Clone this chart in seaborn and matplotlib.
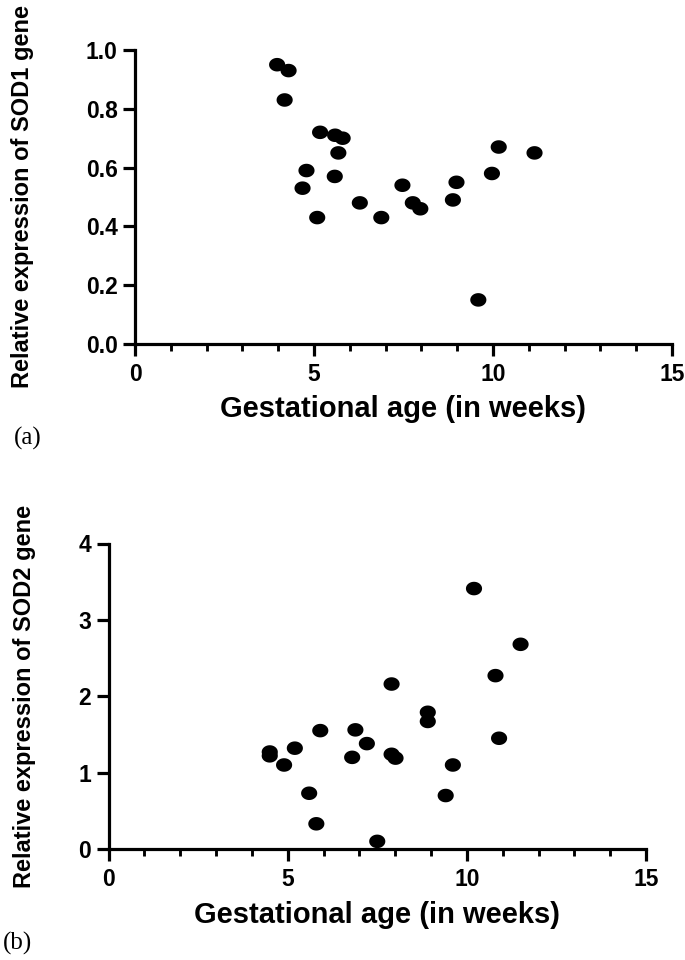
import numpy as np
import pandas as pd
import matplotlib
matplotlib.use("Agg")
import matplotlib.pyplot as plt
import seaborn as sns
from matplotlib.path import Path
from matplotlib.markers import MarkerStyle
from matplotlib.ticker import MultipleLocator, FormatStrFormatter

# ---- data ----
sod1_weeks = [3.97, 4.29, 4.18, 5.17, 5.59, 5.80, 5.68, 4.79, 5.58, 4.68, 5.09,
              6.28, 6.88, 7.47, 7.76, 7.97, 8.88, 8.98, 9.97, 10.16, 11.16, 9.59]
sod1_expr = [0.95, 0.93, 0.83, 0.72, 0.71, 0.70, 0.65, 0.59, 0.57, 0.53, 0.43,
             0.48, 0.43, 0.54, 0.48, 0.46, 0.49, 0.55, 0.58, 0.67, 0.65, 0.15]

sod2_weeks = [10.20, 11.50, 10.80, 7.90, 8.91, 8.91, 5.91, 6.89, 7.21, 5.20, 4.50,
              4.50, 4.90, 6.80, 7.90, 8.01, 9.61, 10.90, 5.60, 9.41, 5.80, 7.50]
sod2_expr = [3.41, 2.68, 2.27, 2.16, 1.79, 1.67, 1.55, 1.56, 1.38, 1.32, 1.27,
             1.22, 1.10, 1.20, 1.24, 1.19, 1.10, 1.45, 0.73, 0.70, 0.33, 0.10]

x_label = "Gestational age (in weeks)"
y_label_a = "Relative expression of SOD1 gene"
y_label_b = "Relative expression of SOD2 gene"
x_ticks = [0, 5, 10, 15]
y_ticks_a = [0.0, 0.2, 0.4, 0.6, 0.8, 1.0]
y_ticks_b = [0, 1, 2, 3, 4]

df_a = pd.DataFrame({"weeks": sod1_weeks, "expr": sod1_expr})
df_b = pd.DataFrame({"weeks": sod2_weeks, "expr": sod2_expr})

# ---- style ----
sns.set_style("ticks")
plt.rcParams["font.family"] = ["Liberation Sans", "DejaVu Sans"]
plt.rcParams["font.weight"] = "bold"
plt.rcParams["text.color"] = "black"
plt.rcParams["axes.labelcolor"] = "black"
plt.rcParams["xtick.color"] = "black"
plt.rcParams["ytick.color"] = "black"
plt.rcParams["axes.edgecolor"] = "black"

W, H = 685, 960
fig = plt.figure(figsize=(W / 100, H / 100), dpi=100)

def px_axes(left, right, y_bottom, y_top):
    return fig.add_axes([left / W, 1 - y_bottom / H,
                         (right - left) / W, (y_bottom - y_top) / H])

ax_a = px_axes(135, 672, 344, 50)
ax_b = px_axes(108.5, 646, 849, 543.5)

# slightly wide elliptical dot, as in the reference
t = np.linspace(0, 2 * np.pi, 60)
ell = Path(np.column_stack([np.cos(t) * 1.0, np.sin(t) * 0.84]), closed=True)
marker = MarkerStyle(ell)

lw = 2.3

def style_axis(ax, df, yticks, ylim, yfmt, ylabel, ylab_x, ylab_y, xlab_y):
    sns.scatterplot(data=df, x="weeks", y="expr", ax=ax, color="black",
                    marker=marker, s=135, edgecolor="none", linewidth=0)
    ax.set_xlim(0, 15)
    ax.set_ylim(*ylim)
    ax.set_xticks(x_ticks)
    ax.xaxis.set_minor_locator(MultipleLocator(1))
    ax.set_yticks(yticks)
    ax.yaxis.set_major_formatter(FormatStrFormatter(yfmt))
    sns.despine(ax=ax)
    for sp in ["left", "bottom"]:
        ax.spines[sp].set_linewidth(lw)
        ax.spines[sp].set_color("black")
    ax.tick_params(axis="both", which="major", length=8.5, width=lw,
                   labelsize=16.5, color="black", labelcolor="black")
    ax.tick_params(axis="x", which="major", pad=5)
    ax.tick_params(axis="y", which="major", pad=4)
    ax.tick_params(axis="x", which="minor", length=5, width=lw * 0.9, color="black")
    for lab in ax.get_xticklabels() + ax.get_yticklabels():
        lab.set_fontweight("bold")
        lab.set_color("black")
    ax.set_xlabel(x_label, fontsize=21, fontweight="bold", va="center", color="black")
    ax.set_ylabel(ylabel, fontsize=17, fontweight="bold", va="center", color="black")
    ax.xaxis.set_label_coords(0.5, xlab_y)
    ax.yaxis.set_label_coords(ylab_x, ylab_y)
    ax.set_facecolor("white")

style_axis(ax_a, df_a, y_ticks_a, (0, 1.0), "%.1f", y_label_a, -0.209, 0.503, -0.221)
style_axis(ax_b, df_b, y_ticks_b, (0, 4), "%d", y_label_b, -0.157, 0.5, -0.216)

fig.text(28 / W, 1 - 438 / H, "(a)", family=["Liberation Serif", "DejaVu Serif"],
         fontsize=18, fontweight="normal", ha="center", va="center", color="black")
fig.text(17 / W, 1 - 943 / H, "(b)", family=["Liberation Serif", "DejaVu Serif"],
         fontsize=18, fontweight="normal", ha="center", va="center", color="black")

fig.savefig("out.png", dpi=100, facecolor="white")
